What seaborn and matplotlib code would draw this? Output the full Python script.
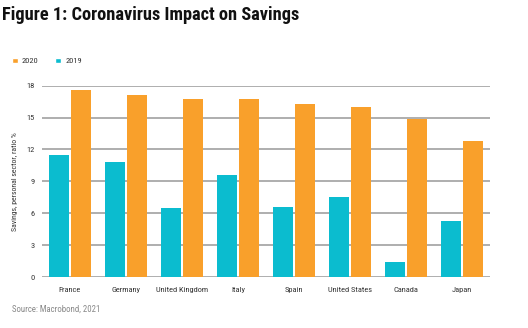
import matplotlib
matplotlib.use("Agg")
import matplotlib.pyplot as plt
import seaborn as sns
import pandas as pd
from matplotlib.patches import Patch

countries = ["France", "Germany", "United Kingdom", "Italy", "Spain",
             "United States", "Canada", "Japan"]
savings_2019 = [11.5, 10.8, 6.5, 9.6, 6.6, 7.5, 1.4, 5.3]
savings_2020 = [17.6, 17.1, 16.7, 16.7, 16.3, 16.0, 14.9, 12.8]
years = ["2019", "2020"]
yticks = [0, 3, 6, 9, 12, 15, 18]

df = pd.DataFrame({
    "country": countries * 2,
    "year": [years[0]] * len(countries) + [years[1]] * len(countries),
    "value": savings_2019 + savings_2020,
})

TEAL = "#0bbccf"
ORANGE = "#f9a02b"
FONT = ["Roboto Condensed", "DejaVu Sans"]

sns.set_theme(style="white")
plt.rcParams["font.family"] = FONT

fig = plt.figure(figsize=(5.28, 3.28), dpi=100)
ax = fig.add_axes([0.0795, 0.155, 0.849, 0.584])

sns.barplot(data=df, x="country", y="value", hue="year", hue_order=years,
            palette={"2019": TEAL, "2020": ORANGE}, width=0.77, gap=0.07,
            ax=ax, legend=False, saturation=1, edgecolor="none", zorder=3)

ax.set_ylim(0, 18)
ax.set_xlim(-0.5, len(countries) - 0.5)
ax.set_yticks(yticks)
ax.set_yticklabels([str(t) for t in yticks], fontsize=6, color="#333333")
ax.tick_params(axis="y", length=0, pad=5)
ax.tick_params(axis="x", length=0, pad=7, labelsize=6, labelcolor="#333333")
for t in yticks:
    ax.axhline(t, color="#a8a8a8", lw=1.3, zorder=1)
for s in ax.spines.values():
    s.set_visible(False)
ax.grid(False)
ax.set_xlabel("")
ax.set_ylabel("Savings, personal sector, ratio %", fontsize=5.6, color="#333333", labelpad=6)

fig.text(0.004, 0.953, "Figure 1: Coronavirus Impact on Savings", fontsize=13.2,
         fontweight="bold", color="#111111", va="center", ha="left")

handles = [Patch(facecolor=ORANGE, label="2020"), Patch(facecolor=TEAL, label="2019")]
fig.legend(handles=handles, loc="center left", bbox_to_anchor=(0.008, 0.814),
           ncol=2, frameon=False, fontsize=6, handlelength=0.7, handleheight=0.7,
           columnspacing=2.0, handletextpad=0.5, labelcolor="#333333")

fig.text(0.023, 0.057, "Source: Macrobond, 2021", fontsize=6.3, color="#888888",
         va="center", ha="left")

fig.savefig("out.png", dpi=100)
